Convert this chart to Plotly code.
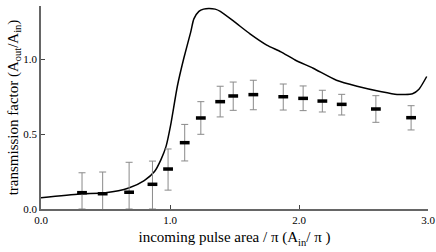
import plotly.graph_objects as go

# Measured transmission (points with error bars)
pulse_area = [0.318, 0.478, 0.683, 0.864, 0.985, 1.114, 1.239, 1.389, 1.490, 1.646,
              1.878, 2.032, 2.181, 2.331, 2.596, 2.869]
transmission = [0.109, 0.102, 0.112, 0.165, 0.267, 0.443, 0.608, 0.717, 0.755, 0.764,
                0.750, 0.739, 0.721, 0.699, 0.668, 0.610]
err_upper = [0.242, 0.247, 0.312, 0.320, 0.401, 0.565, 0.717, 0.820, 0.848, 0.860,
             0.835, 0.822, 0.793, 0.766, 0.757, 0.690]
err_lower = [0.0, -0.01, 0.0, 0.0, 0.126, 0.321, 0.499, 0.615, 0.659, 0.663,
             0.661, 0.657, 0.648, 0.628, 0.579, 0.528]

# Theoretical curve
curve_x = [0.0, 0.3, 0.5, 0.68, 0.80, 0.88, 0.93, 0.97, 1.005, 1.057, 1.108, 1.16, 1.185,
           1.224, 1.26, 1.30, 1.35, 1.39, 1.50, 1.62, 1.75, 1.86, 1.97, 2.11, 2.29, 2.45,
           2.63, 2.76, 2.88, 2.93, 2.99]
curve_y = [0.075, 0.100, 0.108, 0.14, 0.19, 0.25, 0.33, 0.42, 0.56, 0.82, 1.01, 1.18, 1.27,
           1.32, 1.335, 1.34, 1.335, 1.32, 1.25, 1.17, 1.095, 1.05, 0.995, 0.94, 0.86, 0.82,
           0.785, 0.765, 0.77, 0.80, 0.885]

x_ticks = [0.0, 1.0, 2.0, 3.0]
y_ticks = [0.0, 0.5, 1.0]

err_plus = [u - v for u, v in zip(err_upper, transmission)]
err_minus = [v - l for v, l in zip(transmission, err_lower)]

fig = go.Figure()
fig.add_trace(go.Scatter(
    x=curve_x, y=curve_y, mode="lines", line=dict(color="black", width=1.5, shape="spline", smoothing=0.6),
    hoverinfo="skip", showlegend=False))
fig.add_trace(go.Scatter(
    x=pulse_area, y=transmission, mode="markers",
    marker=dict(symbol="line-ew", size=7, color="black", line=dict(color="black", width=3.5)),
    error_y=dict(type="data", symmetric=False, array=err_plus, arrayminus=err_minus,
                 color="#8a8a8a", thickness=1, width=3.5),
    showlegend=False))

font = dict(family="Liberation Serif", color="black")
fig.update_layout(
    width=436, height=252,
    margin=dict(l=41, r=8, t=6, b=43),
    paper_bgcolor="white", plot_bgcolor="white",
    font=dict(**font, size=12),
    xaxis=dict(range=[0.0, 3.0], tickvals=x_ticks, ticktext=[f"{v:.1f}" for v in x_ticks],
               showgrid=False, zeroline=False, showline=True, linecolor="#666666", linewidth=1.5,
               ticks="inside", ticklen=4, tickcolor="#444444", tickwidth=1,
               tickfont=dict(**font, size=11), automargin=False,
               title=dict(text="incoming pulse area / π (A<sub>in</sub>/ π )",
                          font=dict(**font, size=15), standoff=7)),
    yaxis=dict(range=[0, 1.356], tickvals=y_ticks, ticktext=[f"{v:.1f}" for v in y_ticks],
               showgrid=False, zeroline=False, showline=True, linecolor="#666666", linewidth=1.5,
               ticks="inside", ticklen=4, tickcolor="#444444", tickwidth=1,
               tickfont=dict(**font, size=11), automargin=False,
               title=dict(text="transmission factor (A<sub>out</sub>/A<sub>in</sub>)",
                          font=dict(**font, size=15), standoff=1)),
)
fig.write_html("out.html", config={"displayModeBar": False},
               post_script="document.body.style.margin='0';document.body.style.padding='0';")
